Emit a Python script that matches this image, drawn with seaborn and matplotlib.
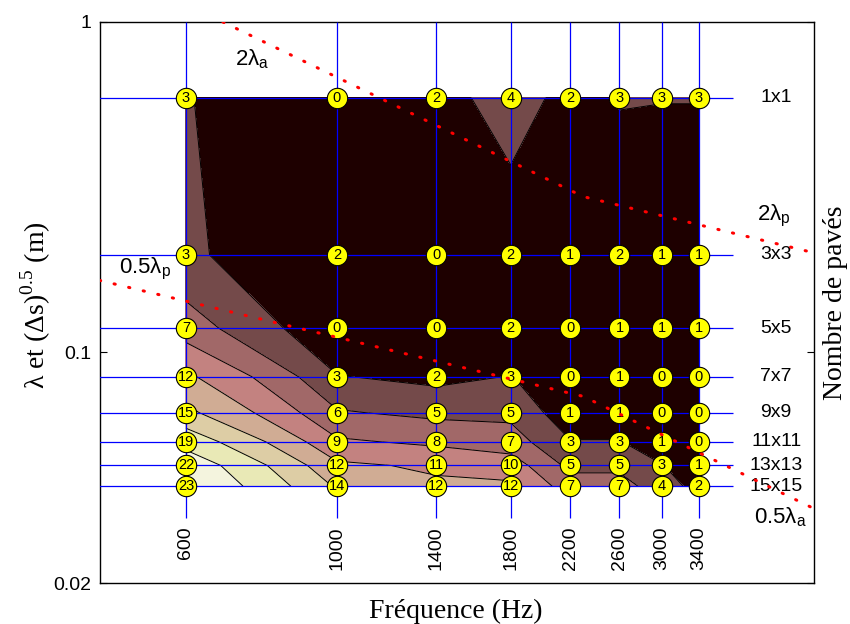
import numpy as np
import pandas as pd
import matplotlib
matplotlib.use("Agg")
import matplotlib.pyplot as plt
from matplotlib.ticker import NullLocator, FixedLocator, FixedFormatter
import seaborn as sns

# ---------------- data ----------------
freqs = [600, 1000, 1400, 1800, 2200, 2600, 3000, 3400]
freq_labels = ["600", "1000", "1400", "1800", "2200", "2600", "3000", "3400"]
panel_labels = ["1x1", "3x3", "5x5", "7x7", "9x9", "11x11", "13x13", "15x15"]
panel_sizes = [0.59, 0.197, 0.118, 0.0843, 0.0656, 0.0536, 0.0454, 0.0393]

counts_1x1 = [3, 0, 2, 4, 2, 3, 3, 3]
counts_3x3 = [3, 2, 0, 2, 1, 2, 1, 1]
counts_5x5 = [7, 0, 0, 2, 0, 1, 1, 1]
counts_7x7 = [12, 3, 2, 3, 0, 1, 0, 0]
counts_9x9 = [15, 6, 5, 5, 1, 1, 0, 0]
counts_11x11 = [19, 9, 8, 7, 3, 3, 1, 0]
counts_13x13 = [22, 12, 11, 10, 5, 5, 3, 1]
counts_15x15 = [23, 14, 12, 12, 7, 7, 4, 2]

contour_levels = [0, 2.875, 5.75, 8.625, 11.5, 14.375, 17.25, 20.125, 23]

# dotted wavelength curves (frequency in Hz, wavelength in m)
upper_curve_f = [680, 2300, 5020]
upper_curve_l = [1.0, 0.296, 0.200]
lower_curve_f = [448, 2300, 5020]
lower_curve_l = [0.165, 0.0735, 0.0336]

# ---------------- styling ----------------
sns.set_theme(style="white")
plt.rcParams["font.family"] = ["Liberation Sans", "DejaVu Sans"]
plt.rcParams["mathtext.fontset"] = "custom"
plt.rcParams["text.color"] = "black"
plt.rcParams["ytick.color"] = "black"
plt.rcParams["xtick.color"] = "black"

W, H = 850, 624
fig = plt.figure(figsize=(W / 100, H / 100), dpi=100)
fig.patch.set_facecolor("white")
ax_l, ax_r, ax_t, ax_b = 99.5, 814, 22, 583
ax = fig.add_axes([ax_l / W, 1 - ax_b / H, (ax_r - ax_l) / W, (ax_b - ax_t) / H])
ax.set_facecolor("white")
ax.set_xscale("log")
ax.set_yscale("log")
ax.set_xlim(448, 5020)
ax.set_ylim(0.02, 1)

Z = np.array([counts_1x1, counts_3x3, counts_5x5, counts_7x7,
              counts_9x9, counts_11x11, counts_13x13, counts_15x15], dtype=float)
X, Y = np.meshgrid(freqs, panel_sizes)

band_colors = [plt.cm.pink(k / 8) for k in range(len(contour_levels) - 1)]
ax.contourf(X, Y, Z, levels=contour_levels, colors=band_colors, zorder=1)
ax.contour(X, Y, Z, levels=contour_levels[1:-1], colors="black",
           linewidths=0.7, zorder=2)

# blue grid lines
ax.vlines(freqs, 0.0314, 1.0, colors="blue", linewidth=0.9, zorder=3)
ax.hlines(panel_sizes, 440, 3820, colors="blue", linewidth=0.9, zorder=3)

# markers with counts
df = pd.DataFrame({
    "freq": np.tile(freqs, len(panel_sizes)),
    "size": np.repeat(panel_sizes, len(freqs)),
    "count": Z.astype(int).ravel(),
})
sns.scatterplot(data=df, x="freq", y="size", s=215, color="#ffff00",
                edgecolor="black", linewidth=0.8, zorder=5, ax=ax, legend=False)
for _, r in df.iterrows():
    ax.text(r["freq"], r["size"], str(int(r["count"])), ha="center",
            va="center", fontsize=10.5, color="black", zorder=6)

# frequency labels (inside axes, rotated)
for f, lab in zip(freqs, freq_labels):
    ax.text(f, 0.0297, lab, rotation=90, ha="center", va="top",
            fontsize=14, color="black", zorder=6)

# right-hand panel labels
for s, lab in zip(panel_sizes, panel_labels):
    ax.text(4418, s, lab, ha="center", va="center", fontsize=14,
            color="black", zorder=6)

# dotted wavelength curves
dot_style = dict(color="red", linewidth=2.2, linestyle=(0, (0.4, 4.5)),
                 dash_capstyle="round", zorder=7, clip_on=True)
ax.plot(upper_curve_f, upper_curve_l, **dot_style)
ax.plot(lower_curve_f, lower_curve_l, **dot_style)

lab_kw = dict(ha="left", va="center", fontsize=16, color="black", zorder=6)
ax.text(709, 0.773, "2λ$_\\mathregular{a}$", **lab_kw)
ax.text(4145, 0.2584, "2λ$_\\mathregular{p}$", **lab_kw)
ax.text(479, 0.1785, "0.5λ$_\\mathregular{p}$", **lab_kw)
ax.text(4102, 0.0316, "0.5λ$_\\mathregular{a}$", **lab_kw)

# axes / ticks
ax.xaxis.set_major_locator(NullLocator())
ax.xaxis.set_minor_locator(NullLocator())
ax.yaxis.set_major_locator(FixedLocator([0.02, 0.1, 1]))
ax.yaxis.set_major_formatter(FixedFormatter(["0.02", "0.1", "1"]))
ax.yaxis.set_minor_locator(NullLocator())
ax.tick_params(axis="y", which="major", direction="in", left=True, right=True,
               length=5, width=0.8, labelsize=14, colors="black", pad=6)
ax.tick_params(axis="x", bottom=False, top=False)
for sp in ax.spines.values():
    sp.set_visible(True)
    sp.set_color("black")
    sp.set_linewidth(1.0)
ax.set_xlabel("")
ax.set_ylabel("")

serif = ["Liberation Serif", "DejaVu Serif"]
fig.text(455.5 / W, 1 - 618 / H, "Fréquence (Hz)", ha="center", va="baseline",
         fontsize=20, family=serif, color="black")
fig.text(36 / W, 1 - 305 / H, "λ et (Δs)$^\\mathregular{0.5}$ (m)", rotation=90,
         ha="center", va="center", fontsize=20, family=serif, color="black")
fig.text(836 / W, 1 - 303 / H, "Nombre de pavés", rotation=90, ha="center",
         va="center", fontsize=20, family=serif, color="black")

fig.savefig("out.png", dpi=100, facecolor="white")
